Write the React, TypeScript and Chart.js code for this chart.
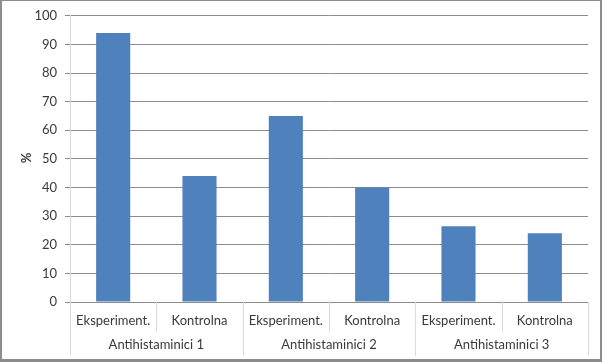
import React, { useEffect, useRef } from "react";
import { Chart, registerables } from "chart.js";

Chart.register(...registerables);

const subCategories = ["Eksperiment.", "Kontrolna", "Eksperiment.", "Kontrolna", "Eksperiment.", "Kontrolna"];
const groups = ["Antihistaminici 1", "Antihistaminici 2", "Antihistaminici 3"];
const groupSize = 2;
const values = [94, 44, 65, 40, 26.5, 24];
const yTitle = "%";

const FONT = "Lato, 'Open Sans', sans-serif";
const TEXT = "#3a3a3a";

const groupPlugin = {
  id: "groupAxis",
  afterDraw(chart: any) {
    const ctx = chart.ctx;
    const x = chart.scales.x;
    const area = chart.chartArea;
    const n = subCategories.length;
    const step = (area.right - area.left) / n;
    const bottom = area.bottom;
    ctx.save();
    ctx.strokeStyle = "#d9d9d9";
    ctx.lineWidth = 1;
    for (let i = 0; i <= n; i++) {
      const px = Math.round(x.getPixelForValue(i) - step / 2) + 0.5;
      const isGroup = i % groupSize === 0;
      ctx.beginPath();
      ctx.moveTo(px, bottom);
      ctx.lineTo(px, bottom + (isGroup ? 54 : 30));
      ctx.stroke();
    }
    ctx.fillStyle = TEXT;
    ctx.font = `13px ${FONT}`;
    ctx.textAlign = "center";
    ctx.textBaseline = "middle";
    groups.forEach((g, gi) => {
      const a = x.getPixelForValue(gi * groupSize);
      const b = x.getPixelForValue(gi * groupSize + groupSize - 1);
      ctx.fillText(g, (a + b) / 2, bottom + 43);
    });
    ctx.translate(27, 158);
    ctx.rotate(-Math.PI / 2);
    ctx.font = `bold 13px ${FONT}`;
    ctx.fillText(yTitle, 0, 0);
    ctx.restore();
  },
};

export default function App() {
  const ref = useRef<HTMLCanvasElement>(null);
  useEffect(() => {
    document.body.style.margin = "0";
    const chart = new Chart(ref.current!, {
      type: "bar",
      data: {
        labels: subCategories,
        datasets: [
          {
            data: values,
            backgroundColor: "#4F81BD",
            borderColor: "#4F81BD",
            borderWidth: 0,
            categoryPercentage: 1,
            barPercentage: 0.395,
          },
        ],
      },
      options: {
        responsive: false,
        animation: false,
        layout: { padding: { left: 0, top: 15, right: 14, bottom: 0 } },
        plugins: { legend: { display: false }, tooltip: { enabled: false } },
        scales: {
          x: {
            grid: { display: false, drawTicks: false },
            border: { display: false },
            ticks: { color: TEXT, font: { family: FONT, size: 13 }, padding: 11, maxRotation: 0, autoSkip: false },
            afterFit(scale: any) {
              scale.height = 60;
            },
          },
          y: {
            min: 0,
            max: 100,
            ticks: { stepSize: 10, color: TEXT, font: { family: FONT, size: 13 }, padding: 8 },
            grid: { color: "#8c8c8c", tickLength: 5, tickColor: "#8c8c8c" },
            border: { display: true, color: "#d9d9d9" },
            afterFit(scale: any) {
              scale.width = 70;
            },
          },
        },
      },
      plugins: [groupPlugin],
    });
    return () => chart.destroy();
  }, []);
  return (
    <div style={{ position: "fixed", left: 0, top: 0, width: 602, height: 362, background: "#fff" }}>
      <canvas ref={ref} width={602} height={362} style={{ display: "block" }} />
      <div
        style={{
          position: "absolute",
          left: 0,
          top: 0,
          width: 602,
          height: 362,
          boxSizing: "border-box",
          borderTop: "1px solid #8c8c8c",
          borderLeft: "2px solid #8c8c8c",
          borderRight: "2px solid #8c8c8c",
          borderBottom: "3px solid #8c8c8c",
          pointerEvents: "none",
        }}
      />
    </div>
  );
}
